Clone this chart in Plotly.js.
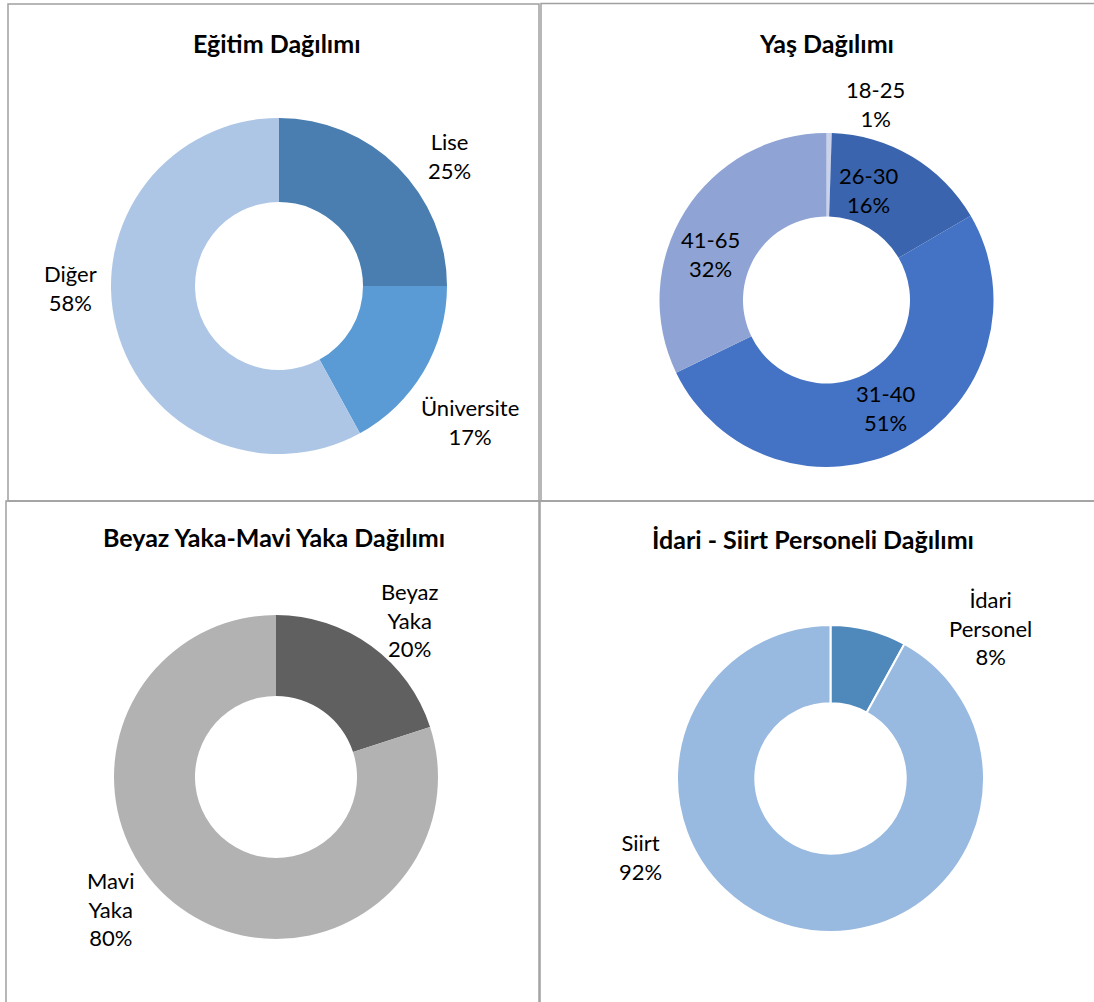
<!DOCTYPE html>
<html>
<head>
<meta charset="utf-8">
<script src="https://cdn.plot.ly/plotly-3.0.1.min.js"></script>
<style>html,body{margin:0;padding:0;background:#fff;}#chart{width:1094px;height:1002px;}</style>
</head>
<body>
<div id="chart"></div>
<script>
// ---- data ----
const chartTitles = ['Eğitim Dağılımı', 'Yaş Dağılımı', 'Beyaz Yaka-Mavi Yaka Dağılımı', 'İdari - Siirt Personeli Dağılımı'];

const eduLabels = ['Lise', 'Üniversite', 'Diğer'];
const eduValues = [25, 17, 58];

const ageLabels = ['18-25', '26-30', '31-40', '41-65'];
const ageValues = [0.5, 16, 51, 32];

const collarLabels = ['Beyaz Yaka', 'Mavi Yaka'];
const collarValues = [20, 80];

const staffLabels = ['İdari Personel', 'Siirt'];
const staffValues = [8, 92];

// ---- layout helpers (pixels -> paper) ----
const W = 1094, H = 1002;
const px = x => x / W;
const py = y => 1 - y / H;

// pie boxes [cx, cy, r] in pixels
const pieBoxes = [[279, 286, 168], [826.5, 300, 167], [276, 777, 162], [830.5, 778.5, 153.5]];
const pieHoles = [0.5, 0.5, 0.5, 0.49];
const pieColors = [
  ['#4a7eb0', '#5b9bd5', '#adc6e6'],
  ['#c9d2ea', '#3a64ae', '#4472c4', '#8fa4d4'],
  ['#606060', '#b2b2b2'],
  ['#4f89bc', '#98b9e0']
];
const pieLineWidths = [0, 0, 0, 2];
const titlePos = [[277, 43], [826, 43], [274, 537], [813, 539]];
// label centres (pixels) for each slice
const labelPos = [
  [[449, 156], [470, 422], [70, 288]],
  [[875, 104], [868, 190], [885, 408], [710, 254]],
  [[409, 620], [110, 909]],
  [[990, 628], [640, 857]]
];

const sets = [
  [eduLabels, eduValues],
  [ageLabels, ageValues],
  [collarLabels, collarValues],
  [staffLabels, staffValues]
];

const traces = sets.map((s, i) => {
  const [cx, cy, r] = pieBoxes[i];
  return {
    type: 'pie',
    labels: s[0],
    values: s[1],
    hole: pieHoles[i],
    sort: false,
    direction: 'clockwise',
    rotation: 0,
    textinfo: 'none',
    hoverinfo: 'label+percent',
    marker: { colors: pieColors[i], line: { color: '#ffffff', width: pieLineWidths[i] } },
    domain: { x: [px(cx - r), px(cx + r)], y: [py(cy + r), py(cy - r)] },
    showlegend: false
  };
});

const annotations = [];
chartTitles.forEach((t, i) => {
  annotations.push({
    xref: 'paper', yref: 'paper', x: px(titlePos[i][0]), y: py(titlePos[i][1]),
    xanchor: 'center', yanchor: 'middle', showarrow: false,
    text: '<b>' + t + '</b>',
    font: { family: 'Lato, sans-serif', size: 25, color: '#000000' }
  });
});
sets.forEach((s, i) => {
  const total = s[1].reduce((a, b) => a + b, 0);
  s[0].forEach((lab, j) => {
    const pct = Math.round(s[1][j] / total * 100);
    annotations.push({
      xref: 'paper', yref: 'paper', x: px(labelPos[i][j][0]), y: py(labelPos[i][j][1]),
      xanchor: 'center', yanchor: 'middle', showarrow: false, align: 'center',
      text: lab.split(' ').join('<br>') + '<br>' + pct + '%',
      font: { family: 'Lato, sans-serif', size: 22, color: '#000000' }
    });
  });
});

const borderColor = '#a0a0a0';
const rects = [[8, 4, 539, 501], [541, 3.5, 1100, 501], [6, 501, 539, 1010], [540, 501, 1100, 1010]];
const shapes = rects.map(r => ({
  type: 'rect', xref: 'paper', yref: 'paper',
  x0: px(r[0]), x1: px(r[2]), y0: py(r[1]), y1: py(r[3]),
  line: { color: borderColor, width: 1.5 }, fillcolor: 'rgba(0,0,0,0)'
}));

Plotly.newPlot('chart', traces, {
  width: W, height: H,
  margin: { l: 0, r: 0, t: 0, b: 0 },
  paper_bgcolor: '#ffffff',
  showlegend: false,
  annotations: annotations,
  shapes: shapes
}, { displayModeBar: false, staticPlot: true });
</script>
</body>
</html>
